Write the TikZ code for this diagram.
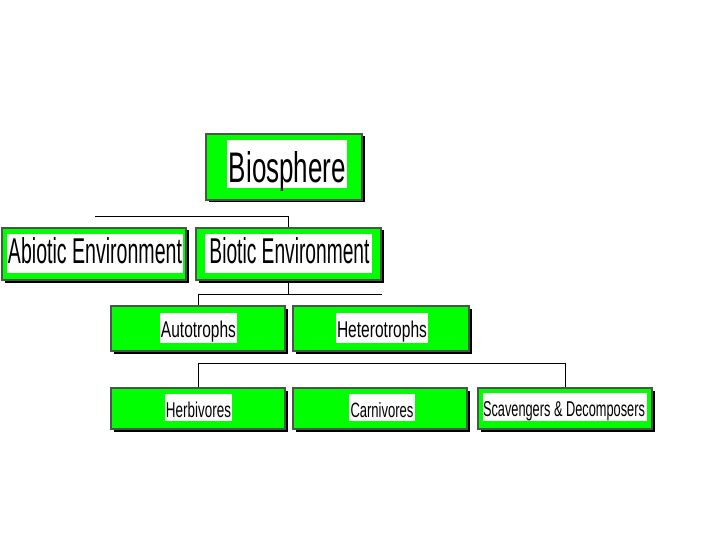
\documentclass[tikz,border=0pt]{standalone}
\usepackage{fontspec}
\setmainfont{Liberation Sans}
\usetikzlibrary{shadows}
\definecolor{limegreen}{RGB}{0,255,0}
\definecolor{bordergray}{RGB}{75,85,75}
\newcommand{\fitto}[3]{\resizebox{#1pt}{#2pt}{#3}}
\tikzset{
  gbox/.style={draw=bordergray, line width=1.6pt, fill=limegreen, inner sep=0pt,
    drop shadow={shadow xshift=2.5pt, shadow yshift=-2.5pt, fill=black, opacity=1}},
  wbg/.style={fill=white, inner sep=0pt},
  wtxt/.style={inner sep=0pt, anchor=base, text=black},
  conn/.style={draw=black, line width=0.9pt}
}
\begin{document}
\begin{tikzpicture}[x=1pt,y=-1pt]
\useasboundingbox (0,0) rectangle (720,540);
% boxes
\node[gbox, minimum width=156pt, minimum height=66pt] (bios) at (284,167) {};
\node[gbox, minimum width=184pt, minimum height=52pt] (abio) at (94,254) {};
\node[gbox, minimum width=185pt, minimum height=52pt] (bio) at (288.5,254) {};
\node[gbox, minimum width=174pt, minimum height=45pt] (auto) at (198,328.5) {};
\node[gbox, minimum width=176pt, minimum height=45pt] (hetero) at (381,328.5) {};
\node[gbox, minimum width=174pt, minimum height=41pt] (herb) at (198,408.5) {};
\node[gbox, minimum width=174pt, minimum height=41pt] (carn) at (380,408.5) {};
\node[gbox, minimum width=174pt, minimum height=41pt] (scav) at (565,408.5) {};
% white label backgrounds
\node[wbg, minimum width=120pt, minimum height=48pt] (biosW) at (287,164) {};
\node[wbg, minimum width=176pt, minimum height=39pt] (abioW) at (95,253.5) {};
\node[wbg, minimum width=167pt, minimum height=39pt] (bioW) at (288.5,253.5) {};
\node[wbg, minimum width=77pt, minimum height=30pt] (autoW) at (198.5,328) {};
\node[wbg, minimum width=92pt, minimum height=30pt] (heteroW) at (382,328) {};
\node[wbg, minimum width=67pt, minimum height=27pt] (herbW) at (198.5,407.5) {};
\node[wbg, minimum width=66pt, minimum height=27pt] (carnW) at (382,407.5) {};
\node[wbg, minimum width=164pt, minimum height=28pt] (scavW) at (565,407) {};
% texts
\node[wtxt] (biosT) at (287.5,183) {\fitto{117}{31}{Biosphere}};
\node[wtxt] (abioT) at (95,264) {\fitto{174}{26}{Abiotic Environment}};
\node[wtxt] (bioT) at (289.5,264) {\fitto{160}{26}{Biotic Environment}};
\node[wtxt] (autoT) at (198.5,337) {\fitto{75}{16.5}{Autotrophs}};
\node[wtxt] (heteroT) at (382,337) {\fitto{90}{16.5}{Heterotrophs}};
\node[wtxt] (herbT) at (198.5,417) {\fitto{65}{15.5}{Herbivores}};
\node[wtxt] (carnT) at (382,417) {\fitto{63}{15}{Carnivores}};
\node[wtxt] (scavT) at (564,416) {\fitto{162}{15}{Scavengers \& Decomposers}};
% connectors
\coordinate (j1) at (95,216);
\draw[conn] (j1) -| (bio.north);
\coordinate (j2) at (382,294);
\draw[conn] (bio.south) -- (bio.south |- j2);
\draw[conn] (j2) -| (auto.north);
\draw[conn] (herb.north) -- ++(0,-24) -| (scav.north);
\end{tikzpicture}
\end{document}
